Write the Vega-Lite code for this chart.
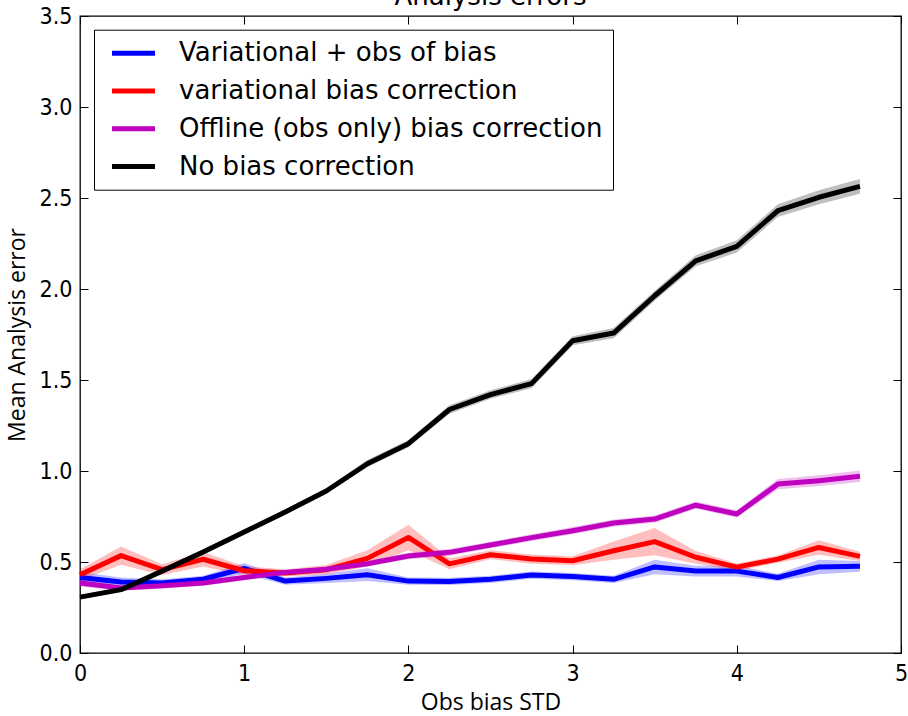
{
  "$schema": "https://vega.github.io/schema/vega-lite/v6.json",
  "width": 821,
  "height": 637,
  "autosize": {"type": "none"},
  "padding": {"left": 80, "top": 16, "right": 7, "bottom": 63},
  "background": "white",
  "title": {
    "text": "Analysis errors",
    "font": "DejaVu Sans",
    "fontSize": 26,
    "fontWeight": "normal",
    "color": "black",
    "baseline": "alphabetic",
    "anchor": "middle",
    "frame": "group",
    "offset": 4,
    "dy": 30
  },
  "config": {
    "view": {"stroke": "black", "strokeWidth": 1.3},
    "axis": {"grid": false, "domain": false, "tickColor": "black", "tickWidth": 1, "labelOverlap": false, "labelBound": false, "labelFlush": false}
  },
  "data": {
    "values": [
      {"std": 0.0, "scheme": "Variational + obs of bias", "err": 0.415, "lo": 0.385, "hi": 0.445},
      {"std": 0.25, "scheme": "Variational + obs of bias", "err": 0.39, "lo": 0.365, "hi": 0.415},
      {"std": 0.5, "scheme": "Variational + obs of bias", "err": 0.385, "lo": 0.365, "hi": 0.405},
      {"std": 0.75, "scheme": "Variational + obs of bias", "err": 0.405, "lo": 0.385, "hi": 0.425},
      {"std": 1.0, "scheme": "Variational + obs of bias", "err": 0.465, "lo": 0.435, "hi": 0.495},
      {"std": 1.25, "scheme": "Variational + obs of bias", "err": 0.395, "lo": 0.375, "hi": 0.415},
      {"std": 1.5, "scheme": "Variational + obs of bias", "err": 0.41, "lo": 0.385, "hi": 0.435},
      {"std": 1.75, "scheme": "Variational + obs of bias", "err": 0.43, "lo": 0.395, "hi": 0.465},
      {"std": 2.0, "scheme": "Variational + obs of bias", "err": 0.395, "lo": 0.375, "hi": 0.415},
      {"std": 2.25, "scheme": "Variational + obs of bias", "err": 0.393, "lo": 0.373, "hi": 0.413},
      {"std": 2.5, "scheme": "Variational + obs of bias", "err": 0.405, "lo": 0.385, "hi": 0.425},
      {"std": 2.75, "scheme": "Variational + obs of bias", "err": 0.428, "lo": 0.408, "hi": 0.448},
      {"std": 3.0, "scheme": "Variational + obs of bias", "err": 0.42, "lo": 0.4, "hi": 0.44},
      {"std": 3.25, "scheme": "Variational + obs of bias", "err": 0.405, "lo": 0.385, "hi": 0.425},
      {"std": 3.5, "scheme": "Variational + obs of bias", "err": 0.473, "lo": 0.433, "hi": 0.513},
      {"std": 3.75, "scheme": "Variational + obs of bias", "err": 0.45, "lo": 0.42, "hi": 0.48},
      {"std": 4.0, "scheme": "Variational + obs of bias", "err": 0.45, "lo": 0.42, "hi": 0.48},
      {"std": 4.25, "scheme": "Variational + obs of bias", "err": 0.415, "lo": 0.395, "hi": 0.435},
      {"std": 4.5, "scheme": "Variational + obs of bias", "err": 0.473, "lo": 0.433, "hi": 0.513},
      {"std": 4.75, "scheme": "Variational + obs of bias", "err": 0.476, "lo": 0.446, "hi": 0.506},

      {"std": 0.0, "scheme": "variational bias correction", "err": 0.43, "lo": 0.4, "hi": 0.46},
      {"std": 0.25, "scheme": "variational bias correction", "err": 0.535, "lo": 0.485, "hi": 0.585},
      {"std": 0.5, "scheme": "variational bias correction", "err": 0.458, "lo": 0.428, "hi": 0.488},
      {"std": 0.75, "scheme": "variational bias correction", "err": 0.515, "lo": 0.475, "hi": 0.555},
      {"std": 1.0, "scheme": "variational bias correction", "err": 0.452, "lo": 0.427, "hi": 0.477},
      {"std": 1.25, "scheme": "variational bias correction", "err": 0.44, "lo": 0.42, "hi": 0.46},
      {"std": 1.5, "scheme": "variational bias correction", "err": 0.458, "lo": 0.433, "hi": 0.483},
      {"std": 1.75, "scheme": "variational bias correction", "err": 0.52, "lo": 0.475, "hi": 0.565},
      {"std": 2.0, "scheme": "variational bias correction", "err": 0.635, "lo": 0.565, "hi": 0.705},
      {"std": 2.25, "scheme": "variational bias correction", "err": 0.49, "lo": 0.46, "hi": 0.52},
      {"std": 2.5, "scheme": "variational bias correction", "err": 0.54, "lo": 0.515, "hi": 0.565},
      {"std": 2.75, "scheme": "variational bias correction", "err": 0.516, "lo": 0.491, "hi": 0.541},
      {"std": 3.0, "scheme": "variational bias correction", "err": 0.507, "lo": 0.482, "hi": 0.532},
      {"std": 3.25, "scheme": "variational bias correction", "err": 0.562, "lo": 0.512, "hi": 0.612},
      {"std": 3.5, "scheme": "variational bias correction", "err": 0.612, "lo": 0.537, "hi": 0.687},
      {"std": 3.75, "scheme": "variational bias correction", "err": 0.526, "lo": 0.491, "hi": 0.561},
      {"std": 4.0, "scheme": "variational bias correction", "err": 0.472, "lo": 0.452, "hi": 0.492},
      {"std": 4.25, "scheme": "variational bias correction", "err": 0.516, "lo": 0.496, "hi": 0.536},
      {"std": 4.5, "scheme": "variational bias correction", "err": 0.58, "lo": 0.54, "hi": 0.62},
      {"std": 4.75, "scheme": "variational bias correction", "err": 0.531, "lo": 0.506, "hi": 0.556},

      {"std": 0.0, "scheme": "Offline (obs only) bias correction", "err": 0.385, "lo": 0.365, "hi": 0.405},
      {"std": 0.25, "scheme": "Offline (obs only) bias correction", "err": 0.357, "lo": 0.342, "hi": 0.372},
      {"std": 0.5, "scheme": "Offline (obs only) bias correction", "err": 0.37, "lo": 0.355, "hi": 0.385},
      {"std": 0.75, "scheme": "Offline (obs only) bias correction", "err": 0.385, "lo": 0.37, "hi": 0.4},
      {"std": 1.0, "scheme": "Offline (obs only) bias correction", "err": 0.415, "lo": 0.4, "hi": 0.43},
      {"std": 1.25, "scheme": "Offline (obs only) bias correction", "err": 0.443, "lo": 0.428, "hi": 0.458},
      {"std": 1.5, "scheme": "Offline (obs only) bias correction", "err": 0.46, "lo": 0.445, "hi": 0.475},
      {"std": 1.75, "scheme": "Offline (obs only) bias correction", "err": 0.49, "lo": 0.475, "hi": 0.505},
      {"std": 2.0, "scheme": "Offline (obs only) bias correction", "err": 0.533, "lo": 0.515, "hi": 0.551},
      {"std": 2.25, "scheme": "Offline (obs only) bias correction", "err": 0.553, "lo": 0.535, "hi": 0.571},
      {"std": 2.5, "scheme": "Offline (obs only) bias correction", "err": 0.593, "lo": 0.575, "hi": 0.611},
      {"std": 2.75, "scheme": "Offline (obs only) bias correction", "err": 0.634, "lo": 0.616, "hi": 0.652},
      {"std": 3.0, "scheme": "Offline (obs only) bias correction", "err": 0.672, "lo": 0.652, "hi": 0.692},
      {"std": 3.25, "scheme": "Offline (obs only) bias correction", "err": 0.714, "lo": 0.694, "hi": 0.734},
      {"std": 3.5, "scheme": "Offline (obs only) bias correction", "err": 0.736, "lo": 0.716, "hi": 0.756},
      {"std": 3.75, "scheme": "Offline (obs only) bias correction", "err": 0.812, "lo": 0.792, "hi": 0.832},
      {"std": 4.0, "scheme": "Offline (obs only) bias correction", "err": 0.764, "lo": 0.744, "hi": 0.784},
      {"std": 4.25, "scheme": "Offline (obs only) bias correction", "err": 0.928, "lo": 0.9, "hi": 0.956},
      {"std": 4.5, "scheme": "Offline (obs only) bias correction", "err": 0.947, "lo": 0.917, "hi": 0.977},
      {"std": 4.75, "scheme": "Offline (obs only) bias correction", "err": 0.971, "lo": 0.939, "hi": 1.003},

      {"std": 0.0, "scheme": "No bias correction", "err": 0.307, "lo": 0.295, "hi": 0.319},
      {"std": 0.25, "scheme": "No bias correction", "err": 0.348, "lo": 0.335, "hi": 0.361},
      {"std": 0.5, "scheme": "No bias correction", "err": 0.45, "lo": 0.437, "hi": 0.463},
      {"std": 0.75, "scheme": "No bias correction", "err": 0.555, "lo": 0.54, "hi": 0.57},
      {"std": 1.0, "scheme": "No bias correction", "err": 0.665, "lo": 0.65, "hi": 0.68},
      {"std": 1.25, "scheme": "No bias correction", "err": 0.775, "lo": 0.76, "hi": 0.79},
      {"std": 1.5, "scheme": "No bias correction", "err": 0.89, "lo": 0.875, "hi": 0.905},
      {"std": 1.75, "scheme": "No bias correction", "err": 1.04, "lo": 1.02, "hi": 1.06},
      {"std": 2.0, "scheme": "No bias correction", "err": 1.15, "lo": 1.13, "hi": 1.17},
      {"std": 2.25, "scheme": "No bias correction", "err": 1.338, "lo": 1.315, "hi": 1.361},
      {"std": 2.5, "scheme": "No bias correction", "err": 1.42, "lo": 1.397, "hi": 1.443},
      {"std": 2.75, "scheme": "No bias correction", "err": 1.48, "lo": 1.455, "hi": 1.505},
      {"std": 3.0, "scheme": "No bias correction", "err": 1.716, "lo": 1.691, "hi": 1.741},
      {"std": 3.25, "scheme": "No bias correction", "err": 1.758, "lo": 1.73, "hi": 1.786},
      {"std": 3.5, "scheme": "No bias correction", "err": 1.963, "lo": 1.935, "hi": 1.991},
      {"std": 3.75, "scheme": "No bias correction", "err": 2.155, "lo": 2.125, "hi": 2.185},
      {"std": 4.0, "scheme": "No bias correction", "err": 2.234, "lo": 2.2, "hi": 2.268},
      {"std": 4.25, "scheme": "No bias correction", "err": 2.43, "lo": 2.395, "hi": 2.465},
      {"std": 4.5, "scheme": "No bias correction", "err": 2.504, "lo": 2.466, "hi": 2.542},
      {"std": 4.75, "scheme": "No bias correction", "err": 2.564, "lo": 2.524, "hi": 2.604}
    ]
  },
  "layer": [
    {
      "mark": {"type": "area", "opacity": 0.25, "interpolate": "linear"},
      "encoding": {
        "x": {
          "field": "std", "type": "quantitative",
          "scale": {"domain": [0, 5], "nice": false, "zero": false},
          "axis": {
            "orient": "bottom", "values": [0, 1, 2, 3, 4, 5], "format": "d",
            "tickSize": -8, "labelPadding": 17,
            "labelFont": "DejaVu Sans Condensed, DejaVu Sans", "labelFontSize": 23, "labelColor": "black",
            "title": "Obs bias STD", "titleFont": "Open Sans", "titleFontSize": 23, "titleFontWeight": "normal",
            "titleColor": "black", "titleBaseline": "alphabetic", "titleX": 410.5, "titleY": 56
          }
        },
        "y": {
          "field": "lo", "type": "quantitative",
          "scale": {"domain": [0, 3.5], "nice": false},
          "axis": {
            "orient": "left", "values": [0, 0.5, 1, 1.5, 2, 2.5, 3, 3.5], "format": ".1f",
            "tickSize": -8, "labelPadding": 16,
            "labelFont": "DejaVu Sans Condensed, DejaVu Sans", "labelFontSize": 23, "labelColor": "black",
            "title": "Mean Analysis error", "titleFont": "Open Sans", "titleFontSize": 23, "titleFontWeight": "normal",
            "titleColor": "black", "titleAngle": -90, "titleBaseline": "alphabetic", "titleX": -56, "titleY": 318.5
          }
        },
        "y2": {"field": "hi"},
        "color": {
          "field": "scheme", "type": "nominal",
          "scale": {
            "domain": ["Variational + obs of bias", "variational bias correction", "Offline (obs only) bias correction", "No bias correction"],
            "range": ["#0000ff", "#ff0000", "#bf00bf", "#000000"]
          },
          "legend": null
        }
      }
    },
    {
      "mark": {"type": "line", "strokeWidth": 5, "strokeJoin": "round"},
      "encoding": {
        "x": {
          "field": "std", "type": "quantitative",
          "axis": {"orient": "top", "values": [0, 1, 2, 3, 4, 5], "tickSize": -8, "labels": false, "title": null}
        },
        "y": {
          "field": "err", "type": "quantitative",
          "axis": {"orient": "right", "values": [0, 0.5, 1, 1.5, 2, 2.5, 3, 3.5], "tickSize": -8, "labels": false, "title": null}
        },
        "color": {
          "field": "scheme", "type": "nominal",
          "legend": {
            "orient": "none", "legendX": 14, "legendY": 13.7, "title": null,
            "symbolType": "M-2,0H2", "symbolSize": 462, "symbolStrokeWidth": 5, "symbolOffset": 16,
            "labelFont": "DejaVu Sans", "labelFontSize": 26, "labelColor": "black", "labelOffset": 32, "labelLimit": 0,
            "strokeColor": "black", "fillColor": "white", "padding": 10, "rowPadding": 10.8, "cornerRadius": 0
          }
        }
      }
    }
  ],
  "resolve": {
    "axis": {"x": "independent", "y": "independent"},
    "legend": {"color": "independent"}
  }
}
